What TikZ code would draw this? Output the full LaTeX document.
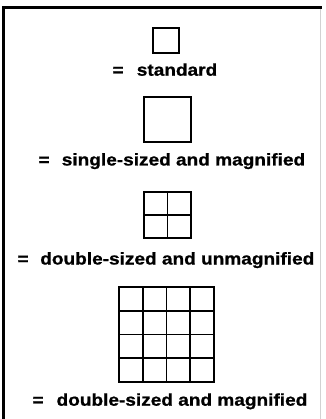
\documentclass[tikz,border=0pt]{standalone}
\usepackage{fontspec}
\usetikzlibrary{calc}
\newfontfamily\labfont[FakeStretch=1.12,BoldFeatures={FakeBold=0.9}]{Liberation Sans}
\begin{document}
\begin{tikzpicture}[x=1pt,y=-1pt,
  frameline/.style={line width=2.8pt,black},
  sq/.style={draw=black,line width=1.8pt,inner sep=0pt,outer sep=0pt,anchor=north west},
  gridline/.style={line width=1.6pt,black},
  lab/.style={inner sep=0pt,outer sep=0pt,anchor=base west,font=\labfont\bfseries\fontsize{17}{20}\selectfont}]
\useasboundingbox (0,0) rectangle (325,419);
% frame
\coordinate (tl) at (3.5,7.5);
\coordinate (tr) at (322,7.5);
\coordinate (bl) at (3.5,419);
\coordinate (rt) at (320.5,7.5);
\coordinate (rb) at (320.5,419);
\draw[gray!35,line width=0.8pt] (rt) -- (rb);
\draw[frameline] (bl) -- (tl) -- (tr);
% standard
\node[sq,minimum width=26pt,minimum height=25pt] (s1) at (153.3,28.3) {};
\node[lab] (e1) at (112.5,75.7) {=};
\node[lab] (t1) at (136.8,75.7) {standard};
% single-sized and magnified
\node[sq,minimum width=47pt,minimum height=45pt] (s2) at (144,97) {};
\node[lab] (e2) at (38.5,165.5) {=};
\node[lab] (t2) at (61.8,165.5) {single-sized and magnified};
% double-sized and unmagnified
\node[sq,minimum width=47pt,minimum height=46pt] (s3) at (144,192) {};
\draw[gridline] (s3.north) -- (s3.south);
\draw[gridline] (s3.west) -- (s3.east);
\node[lab] (e3) at (17.5,264.5) {=};
\node[lab] (t3) at (40.3,264.5) {double-sized and unmagnified};
% double-sized and magnified
\node[sq,minimum width=95pt,minimum height=95pt] (s4) at (119,287) {};
\foreach \f in {0.25,0.5,0.75}{
  \draw[gridline] ($(s4.north west)!\f!(s4.north east)$) -- ($(s4.south west)!\f!(s4.south east)$);
  \draw[gridline] ($(s4.north west)!\f!(s4.south west)$) -- ($(s4.north east)!\f!(s4.south east)$);
}
\node[lab] (e4) at (32.5,405.7) {=};
\node[lab] (t4) at (56.6,405.7) {double-sized and magnified};
\end{tikzpicture}
\end{document}
